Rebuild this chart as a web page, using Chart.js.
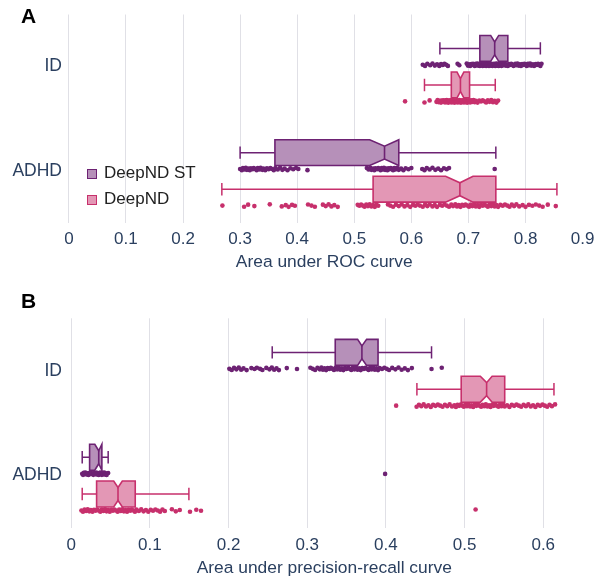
<!DOCTYPE html>
<html>
<head>
<meta charset="utf-8">
<script src="https://cdn.jsdelivr.net/npm/chart.js@4.4.1/dist/chart.umd.min.js"></script>
<style>
  body { margin: 0; background: #fff; font-family: "Liberation Sans", Arial, sans-serif; }
  #wrap { position: relative; width: 597px; height: 582px; }
  canvas { position: absolute; left: 0; }
  #rocChart { top: 0; }
  #prChart { top: 290px; }
  .panel { position: absolute; font-family: "Liberation Sans", Arial, sans-serif; font-weight: bold; font-size: 21px; color: #000; }
  .leg { position: absolute; font-size: 17px; color: #222; line-height: 20px; white-space: nowrap; }
  .leg i { position: absolute; left: -17px; top: 6px; width: 8px; height: 8px; border: 1.5px solid; }
</style>
</head>
<body>
<div id="wrap">
  <canvas id="rocChart" width="597" height="290"></canvas>
  <canvas id="prChart" width="597" height="292"></canvas>
  <div class="panel" style="left:21px; top:4px;">A</div>
  <div class="panel" style="left:21px; top:289px;">B</div>
  <div class="leg" style="left:104px; top:163px;"><i style="background:rgba(109,34,115,0.5); border-color:#6d2273;"></i>DeepND ST</div>
  <div class="leg" style="left:104px; top:189px;"><i style="background:rgba(199,48,108,0.5); border-color:#c7306c;"></i>DeepND</div>
</div>
<script>
// ---- data ----
const CATEGORIES = ["ID", "ADHD"];
const SERIES = ["DeepND ST", "DeepND"];
const ROC_TICKS = [0, 0.1, 0.2, 0.3, 0.4, 0.5, 0.6, 0.7, 0.8, 0.9];
const PR_TICKS = [0, 0.1, 0.2, 0.3, 0.4, 0.5, 0.6];

// box stats: [lower whisker, q1, notch low, median, notch high, q3, upper whisker]
const ROC_ST_ID_BOX = [0.650, 0.720, 0.739, 0.746, 0.753, 0.769, 0.826];
const ROC_DN_ID_BOX = [0.623, 0.670, 0.680, 0.686, 0.692, 0.702, 0.747];
const ROC_ST_ADHD_BOX = [0.300, 0.361, 0.527, 0.553, 0.578, 0.578, 0.748];
const ROC_DN_ADHD_BOX = [0.268, 0.533, 0.660, 0.685, 0.708, 0.748, 0.855];
const PR_ST_ID_BOX = [0.2555, 0.3356, 0.364, 0.3695, 0.3755, 0.390, 0.458];
const PR_DN_ID_BOX = [0.4394, 0.4957, 0.520, 0.528, 0.535, 0.551, 0.6136];
const PR_ST_ADHD_BOX = [0.014, 0.0234, 0.030, 0.035, 0.039, 0.039, 0.047];
const PR_DN_ADHD_BOX = [0.014, 0.0323, 0.054, 0.0595, 0.065, 0.0814, 0.1496];

// individual runs
const ROC_ST_ID_PTS = [0.620, 0.624, 0.628, 0.633, 0.637, 0.641, 0.645, 0.649, 0.652, 0.655, 0.658, 0.661, 0.664, 0.681, 0.684, 0.697, 0.699, 0.701, 0.703, 0.705, 0.707, 0.708, 0.710, 0.711, 0.713, 0.714, 0.716, 0.717, 0.718, 0.720, 0.721, 0.722, 0.723, 0.724, 0.725, 0.726, 0.727, 0.728, 0.729, 0.730, 0.731, 0.732, 0.733, 0.734, 0.735, 0.736, 0.737, 0.738, 0.739, 0.740, 0.741, 0.742, 0.743, 0.744, 0.745, 0.746, 0.747, 0.748, 0.749, 0.750, 0.751, 0.752, 0.753, 0.754, 0.755, 0.756, 0.757, 0.758, 0.759, 0.761, 0.763, 0.765, 0.767, 0.769, 0.771, 0.773, 0.775, 0.777, 0.779, 0.782, 0.784, 0.786, 0.788, 0.790, 0.792, 0.794, 0.796, 0.798, 0.800, 0.802, 0.804, 0.806, 0.808, 0.810, 0.813, 0.815, 0.818, 0.820, 0.822, 0.824, 0.826, 0.828];
const ROC_DN_ID_PTS = [0.589, 0.623, 0.632, 0.644, 0.646, 0.648, 0.650, 0.652, 0.653, 0.655, 0.656, 0.658, 0.659, 0.660, 0.661, 0.662, 0.663, 0.664, 0.665, 0.666, 0.667, 0.668, 0.669, 0.670, 0.671, 0.672, 0.673, 0.674, 0.675, 0.676, 0.677, 0.678, 0.679, 0.680, 0.681, 0.682, 0.683, 0.684, 0.685, 0.686, 0.687, 0.688, 0.689, 0.690, 0.691, 0.692, 0.693, 0.694, 0.695, 0.696, 0.697, 0.698, 0.699, 0.700, 0.701, 0.702, 0.703, 0.705, 0.707, 0.709, 0.711, 0.713, 0.716, 0.719, 0.722, 0.725, 0.728, 0.731, 0.734, 0.737, 0.740, 0.743, 0.746, 0.749, 0.752];
const ROC_ST_ADHD_PTS = [0.300, 0.303, 0.305, 0.308, 0.310, 0.312, 0.315, 0.317, 0.319, 0.322, 0.324, 0.326, 0.329, 0.331, 0.334, 0.336, 0.339, 0.341, 0.344, 0.347, 0.350, 0.353, 0.356, 0.359, 0.362, 0.366, 0.370, 0.374, 0.378, 0.383, 0.388, 0.393, 0.398, 0.402, 0.418, 0.522, 0.525, 0.528, 0.530, 0.533, 0.535, 0.537, 0.540, 0.542, 0.544, 0.546, 0.548, 0.550, 0.552, 0.554, 0.556, 0.558, 0.560, 0.562, 0.564, 0.566, 0.568, 0.570, 0.572, 0.575, 0.578, 0.582, 0.586, 0.590, 0.595, 0.600, 0.619, 0.623, 0.627, 0.632, 0.637, 0.642, 0.647, 0.652, 0.657, 0.662, 0.666, 0.746];
const ROC_DN_ADHD_PTS = [0.269, 0.307, 0.314, 0.325, 0.352, 0.373, 0.380, 0.385, 0.391, 0.396, 0.419, 0.425, 0.431, 0.445, 0.450, 0.455, 0.460, 0.465, 0.471, 0.506, 0.509, 0.512, 0.515, 0.518, 0.521, 0.524, 0.527, 0.530, 0.533, 0.536, 0.539, 0.542, 0.559, 0.563, 0.568, 0.573, 0.578, 0.583, 0.588, 0.593, 0.598, 0.603, 0.607, 0.611, 0.615, 0.620, 0.624, 0.628, 0.632, 0.637, 0.641, 0.645, 0.650, 0.654, 0.658, 0.662, 0.666, 0.670, 0.673, 0.677, 0.680, 0.683, 0.686, 0.689, 0.692, 0.695, 0.698, 0.701, 0.704, 0.707, 0.710, 0.713, 0.716, 0.719, 0.722, 0.725, 0.728, 0.731, 0.734, 0.737, 0.740, 0.743, 0.746, 0.749, 0.752, 0.756, 0.760, 0.764, 0.768, 0.772, 0.776, 0.780, 0.784, 0.789, 0.795, 0.800, 0.806, 0.812, 0.818, 0.824, 0.830, 0.839, 0.853];
const PR_ST_ID_PTS = [0.201, 0.204, 0.207, 0.210, 0.213, 0.216, 0.219, 0.223, 0.229, 0.233, 0.236, 0.240, 0.243, 0.248, 0.252, 0.255, 0.258, 0.261, 0.264, 0.274, 0.287, 0.304, 0.307, 0.310, 0.313, 0.316, 0.318, 0.320, 0.322, 0.324, 0.326, 0.328, 0.330, 0.332, 0.334, 0.336, 0.338, 0.340, 0.342, 0.344, 0.346, 0.348, 0.350, 0.352, 0.354, 0.356, 0.358, 0.360, 0.362, 0.364, 0.366, 0.368, 0.370, 0.372, 0.374, 0.376, 0.378, 0.380, 0.382, 0.384, 0.386, 0.388, 0.390, 0.392, 0.395, 0.398, 0.401, 0.404, 0.408, 0.412, 0.416, 0.420, 0.424, 0.428, 0.433, 0.458, 0.471];
const PR_DN_ID_PTS = [0.413, 0.439, 0.442, 0.445, 0.448, 0.451, 0.454, 0.457, 0.460, 0.463, 0.466, 0.469, 0.472, 0.475, 0.478, 0.481, 0.484, 0.487, 0.489, 0.491, 0.493, 0.495, 0.497, 0.499, 0.501, 0.503, 0.505, 0.507, 0.509, 0.511, 0.513, 0.515, 0.517, 0.519, 0.521, 0.523, 0.525, 0.527, 0.529, 0.531, 0.533, 0.535, 0.537, 0.539, 0.541, 0.543, 0.545, 0.547, 0.549, 0.551, 0.554, 0.557, 0.560, 0.563, 0.566, 0.569, 0.572, 0.575, 0.578, 0.581, 0.584, 0.587, 0.590, 0.593, 0.596, 0.599, 0.602, 0.605, 0.608, 0.611, 0.615];
const PR_ST_ADHD_PTS = [0.014, 0.015, 0.016, 0.017, 0.018, 0.020, 0.021, 0.022, 0.023, 0.024, 0.025, 0.026, 0.028, 0.029, 0.031, 0.032, 0.033, 0.034, 0.035, 0.036, 0.037, 0.037, 0.038, 0.039, 0.040, 0.041, 0.042, 0.043, 0.044, 0.045, 0.047, 0.399];
const PR_DN_ADHD_PTS = [0.013, 0.015, 0.017, 0.019, 0.021, 0.023, 0.025, 0.027, 0.029, 0.031, 0.033, 0.035, 0.037, 0.039, 0.041, 0.043, 0.045, 0.047, 0.049, 0.051, 0.053, 0.055, 0.057, 0.059, 0.061, 0.063, 0.065, 0.067, 0.069, 0.071, 0.073, 0.075, 0.077, 0.079, 0.081, 0.083, 0.086, 0.089, 0.092, 0.095, 0.098, 0.101, 0.104, 0.107, 0.110, 0.113, 0.116, 0.119, 0.128, 0.133, 0.138, 0.151, 0.159, 0.165, 0.514];

// ---- style ----
const LINE = ["#6d2273", "#c7306c"];
const FILL = ["rgba(109,34,115,0.5)", "rgba(199,48,108,0.5)"];
const AXIS_COLOR = "#2a3f5f";
const GRID_COLOR = "#e0e0e6";
const FONT = "Liberation Sans";
const BOX_OFF = [-0.175, 0.176];   // box centre offset from category
const PT_OFF = [-0.018, 0.333];    // point band offset from category
const BOX_HALF = 0.124;            // half box height, y units
const JITTER = [0, 0.011, -0.009, 0.005, -0.012, 0.008, -0.004, 0.012, -0.007, 0.002, -0.010];

function toPoints(ptsByCat, s) {
    let out = [];
    ptsByCat.forEach((vals, cat) => {
        vals.forEach((v, i) => {
            out.push({ x: v, y: cat + PT_OFF[s] + JITTER[i % JITTER.length] });
        });
    });
    return out;
}

// draws notched boxes + whiskers through the chart scales
const boxPlugin = {
    id: "boxes",
    beforeDatasetsDraw(chart, args, opts) {
        const { ctx, scales: { x, y } } = chart;
        ctx.save();
        opts.boxes.forEach(b => {
            const [lo, q1, nLo, med, nHi, q3, hi] = b.stats.map(v => x.getPixelForValue(v));
            const yc = y.getPixelForValue(b.cat + BOX_OFF[b.s]);
            const h = Math.abs(y.getPixelForValue(BOX_HALF) - y.getPixelForValue(0));
            const top = yc - h, bot = yc + h;
            const ind = h * 0.5;
            const cap = h * 0.48;

            ctx.strokeStyle = LINE[b.s];
            ctx.lineWidth = 1.5;
            // whiskers
            ctx.beginPath();
            ctx.moveTo(lo, yc); ctx.lineTo(q1, yc);
            ctx.moveTo(q3, yc); ctx.lineTo(hi, yc);
            ctx.moveTo(lo, yc - cap); ctx.lineTo(lo, yc + cap);
            ctx.moveTo(hi, yc - cap); ctx.lineTo(hi, yc + cap);
            ctx.stroke();

            // notched box
            ctx.beginPath();
            ctx.moveTo(q1, top);
            ctx.lineTo(nLo, top);
            ctx.lineTo(med, top + ind);
            ctx.lineTo(nHi, top);
            ctx.lineTo(q3, top);
            ctx.lineTo(q3, bot);
            ctx.lineTo(nHi, bot);
            ctx.lineTo(med, bot - ind);
            ctx.lineTo(nLo, bot);
            ctx.lineTo(q1, bot);
            ctx.closePath();
            ctx.fillStyle = "#fff";
            ctx.fill();
            ctx.fillStyle = FILL[b.s];
            ctx.fill();
            ctx.lineWidth = 1.6;
            ctx.stroke();

            // median
            ctx.beginPath();
            ctx.moveTo(med, top + ind);
            ctx.lineTo(med, bot - ind);
            ctx.stroke();
        });
        ctx.restore();
    }
};

function makePanel(id, ticks, xMin, xMax, title, stPts, dnPts, boxes, lay) {
    return new Chart(document.getElementById(id), {
        type: "scatter",
        data: {
            datasets: [
                { label: SERIES[0], data: stPts, backgroundColor: LINE[0], pointRadius: 2.3, borderWidth: 0 },
                { label: SERIES[1], data: dnPts, backgroundColor: LINE[1], pointRadius: 2.3, borderWidth: 0 }
            ]
        },
        options: {
            responsive: false,
            animation: false,
            layout: { padding: { top: lay.top, right: 14.4, left: 0, bottom: 0 } },
            plugins: {
                legend: { display: false },
                tooltip: { enabled: false },
                boxes: { boxes: boxes }
            },
            scales: {
                x: {
                    type: "linear",
                    min: xMin,
                    max: xMax,
                    afterBuildTicks: s => { s.ticks = ticks.map(v => ({ value: v })); },
                    afterFit: s => {
                        s.height = lay.xh;
                        s.paddingLeft = 0;
                        s.paddingRight = 0;
                    },
                    grid: {
                        color: c => (c.tick && c.tick.value === xMax) ? "rgba(0,0,0,0)" : GRID_COLOR,
                        lineWidth: 1,
                        drawTicks: false
                    },
                    border: { display: false },
                    ticks: {
                        padding: lay.tickPad,
                        color: AXIS_COLOR,
                        font: { family: FONT, size: 17 },
                        callback: v => v === 0 ? "0" : v.toFixed(1)
                    },
                    title: {
                        display: true,
                        text: title,
                        color: AXIS_COLOR,
                        font: { family: FONT, size: 17.4 },
                        padding: { top: 0, bottom: lay.titlePad }
                    }
                },
                y: {
                    type: "linear",
                    min: -0.5,
                    max: 1.5,
                    reverse: true,
                    afterBuildTicks: s => { s.ticks = CATEGORIES.map((c, i) => ({ value: i })); },
                    afterFit: s => { s.width = 66; },
                    grid: { display: false, drawTicks: false },
                    border: { display: false },
                    ticks: {
                        padding: 4,
                        color: AXIS_COLOR,
                        font: { family: FONT, size: 17.5 },
                        callback: v => CATEGORIES[v]
                    }
                }
            }
        },
        plugins: [boxPlugin]
    });
}

makePanel("rocChart", ROC_TICKS, -0.005, 0.9, "Area under ROC curve",
    toPoints([ROC_ST_ID_PTS, ROC_ST_ADHD_PTS], 0),
    toPoints([ROC_DN_ID_PTS, ROC_DN_ADHD_PTS], 1),
    [
        { stats: ROC_ST_ID_BOX, cat: 0, s: 0 },
        { stats: ROC_DN_ID_BOX, cat: 0, s: 1 },
        { stats: ROC_ST_ADHD_BOX, cat: 1, s: 0 },
        { stats: ROC_DN_ADHD_BOX, cat: 1, s: 1 }
    ],
    { top: 12, xh: 67, tickPad: 6, titlePad: 17 });

makePanel("prChart", PR_TICKS, -0.0066, 0.65, "Area under precision-recall curve",
    toPoints([PR_ST_ID_PTS, PR_ST_ADHD_PTS], 0),
    toPoints([PR_DN_ID_PTS, PR_DN_ADHD_PTS], 1),
    [
        { stats: PR_ST_ID_BOX, cat: 0, s: 0 },
        { stats: PR_DN_ID_BOX, cat: 0, s: 1 },
        { stats: PR_ST_ADHD_BOX, cat: 1, s: 0 },
        { stats: PR_DN_ADHD_BOX, cat: 1, s: 1 }
    ],
    { top: 28.3, xh: 54, tickPad: 7, titlePad: 3.5 });
</script>
</body>
</html>
